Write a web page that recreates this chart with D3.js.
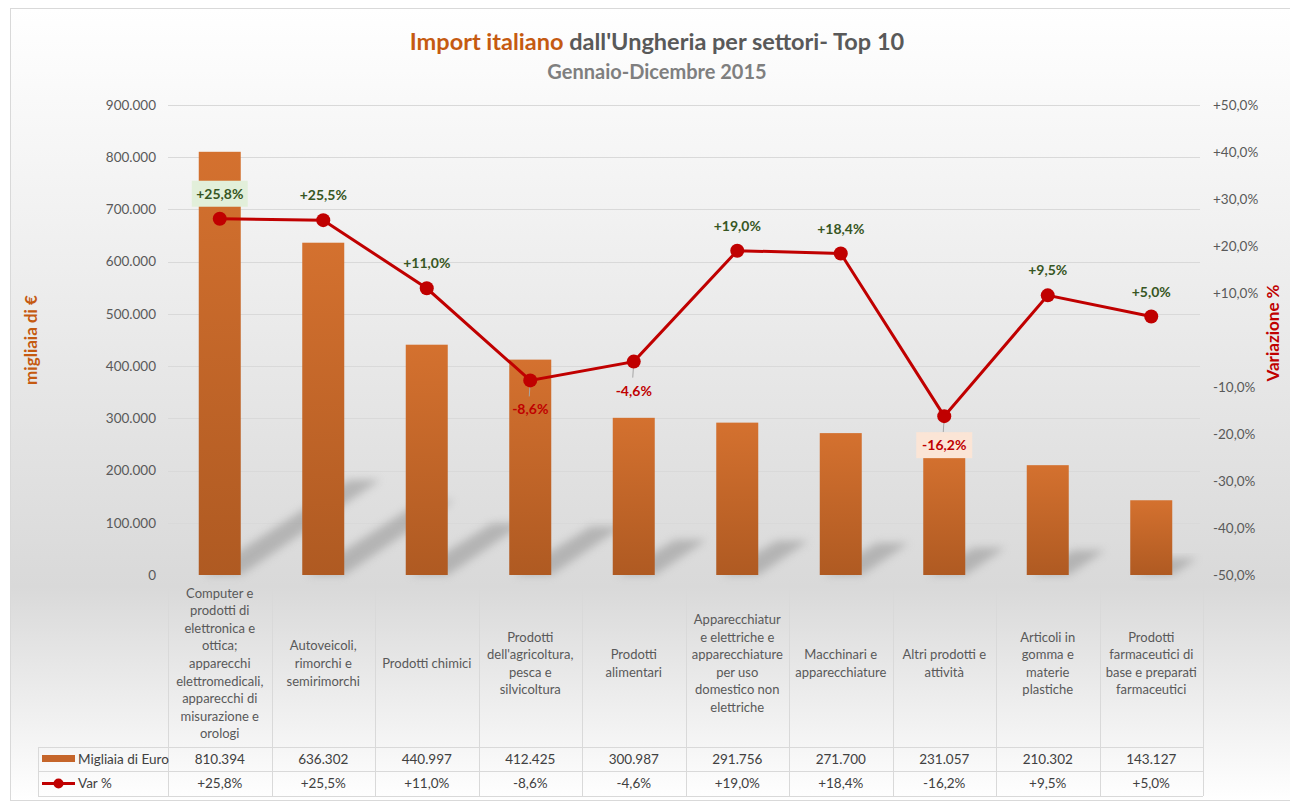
<!DOCTYPE html>
<html>
<head>
<meta charset="utf-8">
<script src="https://cdn.jsdelivr.net/npm/d3@7"></script>
<style>
  body { margin: 0; background: #fff; }
  text { font-family: Lato, "Open Sans", sans-serif; }
</style>
</head>
<body>
<div id="chart"></div>
<script>
// data
var categories = [
    "Computer e\nprodotti di\nelettronica e\nottica;\napparecchi\nelettromedicali,\napparecchi di\nmisurazione e\norologi",
    "Autoveicoli,\nrimorchi e\nsemirimorchi",
    "Prodotti chimici",
    "Prodotti\ndell'agricoltura,\npesca e\nsilvicoltura",
    "Prodotti\nalimentari",
    "Apparecchiatur\ne elettriche e\napparecchiature\nper uso\ndomestico non\nelettriche",
    "Macchinari e\napparecchiature",
    "Altri prodotti e\nattività",
    "Articoli in\ngomma e\nmaterie\nplastiche",
    "Prodotti\nfarmaceutici di\nbase e preparati\nfarmaceutici"
];
var migliaia = [810394, 636302, 440997, 412425, 300987, 291756, 271700, 231057, 210302, 143127];
var varPct = [25.8, 25.5, 11.0, -8.6, -4.6, 19.0, 18.4, -16.2, 9.5, 5.0];
var leftTicks = [0, 100000, 200000, 300000, 400000, 500000, 600000, 700000, 800000, 900000];
var rightTicks = [-50, -40, -30, -20, -10, 10, 20, 30, 40, 50];
var boxedLabels = {0: "#e2efda", 7: "#fbe5d6"};

var w = 1290, h = 801;
var plotLeft = 168, plotRight = 1203, plotTop = 105, plotBottom = 575;

var itNum = d3.formatLocale({decimal: ",", thousands: ".", grouping: [3], currency: ["", "€"], minus: "-"});
var fmtK = itNum.format(",");
var fmtP = function(v){ return (v > 0 ? "+" : "") + itNum.format(".1f")(v) + "%"; };

var svg = d3.select("#chart").append("svg")
    .attr("width", w).attr("height", h);

var defs = svg.append("defs");
var bg = defs.append("linearGradient").attr("id", "bg")
    .attr("x1", 0).attr("y1", 0).attr("x2", 0).attr("y2", 1);
bg.append("stop").attr("offset", "0%").attr("stop-color", "#ffffff");
bg.append("stop").attr("offset", "73%").attr("stop-color", "#d9d9d9");
bg.append("stop").attr("offset", "100%").attr("stop-color", "#ffffff");

var barGrad = defs.append("linearGradient").attr("id", "barGrad")
    .attr("x1", 0).attr("y1", 0).attr("x2", 0).attr("y2", 1);
barGrad.append("stop").attr("offset", "0%").attr("stop-color", "#d4712f");
barGrad.append("stop").attr("offset", "100%").attr("stop-color", "#af5a22");

defs.append("filter").attr("id", "blur")
    .attr("x", "-30%").attr("y", "-30%").attr("width", "160%").attr("height", "160%")
    .append("feGaussianBlur").attr("stdDeviation", 4);

svg.append("rect")
    .attr("x", 10.5).attr("y", 8.5)
    .attr("width", w).attr("height", h - 9)
    .attr("fill", "url(#bg)")
    .attr("stroke", "#d9d9d9");

var xScale = d3.scaleBand()
    .domain(d3.range(categories.length))
    .range([plotLeft, plotRight])
    .padding(0);

var yScale = d3.scaleLinear()
    .domain([0, 900000])
    .range([plotBottom, plotTop]);

var y2Scale = d3.scaleLinear()
    .domain([-50, 50])
    .range([plotBottom, plotTop]);

var barW = 42;

// gridlines
svg.selectAll("gridline")
    .data(leftTicks.slice(1))
    .enter()
    .append("line")
    .attr("x1", plotLeft).attr("x2", plotRight - 3)
    .attr("y1", function(d){ return Math.round(yScale(d)) + 0.5; })
    .attr("y2", function(d){ return Math.round(yScale(d)) + 0.5; })
    .attr("stroke", "#d9d9d9").attr("stroke-width", 1);

// left axis
var yAxis = d3.axisLeft(yScale).tickValues(leftTicks).tickSize(0).tickPadding(0)
    .tickFormat(function(d){ return d === 0 ? "0" : fmtK(d); });
var gy = svg.append("g")
    .attr("transform", "translate(" + 156 + ",0)")
    .call(yAxis);
gy.select(".domain").remove();
gy.selectAll("text").attr("fill", "#595959").style("font-size", "13.5px")
    .style("font-family", "Lato, sans-serif");

// right axis
var y2Axis = d3.axisRight(y2Scale).tickValues(rightTicks).tickSize(0).tickPadding(0)
    .tickFormat(fmtP);
var gy2 = svg.append("g")
    .attr("transform", "translate(" + 1213 + ",0)")
    .call(y2Axis);
gy2.select(".domain").remove();
gy2.selectAll("text").attr("fill", "#595959").style("font-size", "13.5px")
    .style("font-family", "Lato, sans-serif");

// perspective shadows
svg.selectAll("shadow")
    .data(migliaia)
    .enter()
    .append("polygon")
    .attr("points", function(d, i){
        var x0 = xScale(i) + xScale.bandwidth()/2 - barW/2;
        var x1 = x0 + barW;
        var bh = plotBottom - yScale(d);
        var dx = bh * 0.33, dy = bh * 0.225;
        return [[x0 + 4, plotBottom], [x1, plotBottom], [x1 + dx, plotBottom - dy], [x1 + dx - barW * 0.75, plotBottom - dy]].join(" ");
    })
    .attr("fill", "#8c8c8c")
    .attr("opacity", 0.5)
    .attr("filter", "url(#blur)");

// bars
svg.selectAll("bar")
    .data(migliaia)
    .enter()
    .append("rect")
    .attr("x", function(d, i){ return xScale(i) + xScale.bandwidth()/2 - barW/2; })
    .attr("y", function(d){ return yScale(d); })
    .attr("width", barW)
    .attr("height", function(d){ return plotBottom - yScale(d); })
    .attr("fill", "url(#barGrad)");

// line
var line = d3.line()
    .x(function(d, i){ return xScale(i) + xScale.bandwidth()/2; })
    .y(function(d){ return y2Scale(d); });

svg.append("path")
    .datum(varPct)
    .attr("d", line)
    .attr("fill", "none")
    .attr("stroke", "#c00000")
    .attr("stroke-width", 3);

// leader lines for labels under the points
svg.selectAll("leader")
    .data(varPct)
    .enter()
    .filter(function(d){ return d < 0; })
    .append("line")
    .attr("x1", function(d){ return xScale(varPct.indexOf(d)) + xScale.bandwidth()/2; })
    .attr("x2", function(d){ return xScale(varPct.indexOf(d)) + xScale.bandwidth()/2 - 1; })
    .attr("y1", function(d){ return y2Scale(d); })
    .attr("y2", function(d){ return y2Scale(d) + 16; })
    .attr("stroke", "#a6a6a6").attr("stroke-width", 1);

svg.selectAll("dot")
    .data(varPct)
    .enter()
    .append("circle")
    .attr("cx", function(d, i){ return xScale(i) + xScale.bandwidth()/2; })
    .attr("cy", function(d){ return y2Scale(d); })
    .attr("r", 7)
    .attr("fill", "#c00000");

// data labels
var labels = svg.selectAll("dlabel")
    .data(varPct)
    .enter()
    .append("g")
    .attr("transform", function(d, i){
        var cx = xScale(i) + xScale.bandwidth()/2;
        var cy = y2Scale(d) + (d > 0 ? -25 : 29);
        return "translate(" + cx + "," + cy + ")";
    });

labels.filter(function(d, i){ return boxedLabels[i]; })
    .append("rect")
    .attr("x", -28).attr("y", -13).attr("width", 56).attr("height", 26)
    .attr("fill", function(d){ return boxedLabels[varPct.indexOf(d)]; });

labels.append("text")
    .attr("text-anchor", "middle")
    .attr("dy", "0.36em")
    .attr("fill", function(d){ return d > 0 ? "#375623" : "#c00000"; })
    .style("font-size", "14px")
    .style("font-weight", "bold")
    .text(fmtP);

// title
var title = svg.append("text")
    .attr("x", 657).attr("y", 50)
    .attr("text-anchor", "middle")
    .style("font-size", "23.5px")
    .style("font-weight", "bold");
title.append("tspan").attr("fill", "#c55a11").text("Import italiano");
title.append("tspan").attr("fill", "#595959").text(" dall'Ungheria per settori- Top 10");

svg.append("text")
    .attr("x", 657).attr("y", 79)
    .attr("text-anchor", "middle")
    .attr("fill", "#7f7f7f")
    .style("font-size", "20px")
    .style("font-weight", "bold")
    .text("Gennaio-Dicembre 2015");

// axis titles
svg.append("text")
    .attr("transform", "translate(37,340) rotate(-90)")
    .attr("text-anchor", "middle")
    .attr("fill", "#c55a11")
    .style("font-size", "17px")
    .style("font-weight", "bold")
    .text("migliaia di €");

svg.append("text")
    .attr("transform", "translate(1279,333) rotate(-90)")
    .attr("text-anchor", "middle")
    .attr("fill", "#c00000")
    .style("font-size", "17px")
    .style("font-weight", "bold")
    .text("Variazione %");

// data table
var tableTop = 580, row1 = 747, row2 = 771, row3 = 796, legendLeft = 38;
var tColor = "#d9d9d9";

var borders = svg.append("g").attr("stroke", tColor).attr("stroke-width", 1);
var colEdges = d3.range(categories.length + 1).map(function(i){
    return i < categories.length ? xScale(i) : plotRight;
});
borders.selectAll("vline")
    .data(colEdges)
    .enter()
    .append("line")
    .attr("x1", function(d){ return Math.round(d) + 0.5; })
    .attr("x2", function(d){ return Math.round(d) + 0.5; })
    .attr("y1", tableTop).attr("y2", row3);
borders.append("line").attr("x1", legendLeft + 0.5).attr("x2", legendLeft + 0.5).attr("y1", row1).attr("y2", row3);
borders.selectAll("hline")
    .data([row1, row2, row3])
    .enter()
    .append("line")
    .attr("x1", legendLeft).attr("x2", plotRight)
    .attr("y1", function(d){ return d + 0.5; })
    .attr("y2", function(d){ return d + 0.5; });

// category labels
var catLabels = svg.selectAll("catlabel")
    .data(categories)
    .enter()
    .append("text")
    .attr("text-anchor", "middle")
    .attr("fill", "#595959")
    .style("font-size", "13px");
catLabels.each(function(d, i){
    var lines = d.split("\n");
    var lh = 17.6;
    var cx = xScale(i) + xScale.bandwidth()/2;
    var y0 = (tableTop + row1)/2 - (lines.length - 1) * lh / 2;
    d3.select(this).selectAll("tspan")
        .data(lines)
        .enter()
        .append("tspan")
        .attr("x", cx)
        .attr("y", function(l, j){ return y0 + j * lh; })
        .attr("dy", "0.35em")
        .text(function(l){ return l; });
});

// value rows
svg.selectAll("val1")
    .data(migliaia)
    .enter()
    .append("text")
    .attr("x", function(d, i){ return xScale(i) + xScale.bandwidth()/2; })
    .attr("y", (row1 + row2)/2)
    .attr("dy", "0.36em")
    .attr("text-anchor", "middle")
    .attr("fill", "#404040")
    .style("font-size", "13.5px")
    .text(fmtK);

svg.selectAll("val2")
    .data(varPct)
    .enter()
    .append("text")
    .attr("x", function(d, i){ return xScale(i) + xScale.bandwidth()/2; })
    .attr("y", (row2 + row3)/2)
    .attr("dy", "0.36em")
    .attr("text-anchor", "middle")
    .attr("fill", "#404040")
    .style("font-size", "13.5px")
    .text(fmtP);

// legend keys in table
svg.append("rect")
    .attr("x", 42).attr("y", (row1 + row2)/2 - 4)
    .attr("width", 33).attr("height", 7)
    .attr("fill", "#c5652a");
svg.append("line")
    .attr("x1", 42).attr("x2", 75)
    .attr("y1", (row2 + row3)/2).attr("y2", (row2 + row3)/2)
    .attr("stroke", "#c00000").attr("stroke-width", 3);
svg.append("circle")
    .attr("cx", 58.5).attr("cy", (row2 + row3)/2).attr("r", 5)
    .attr("fill", "#c00000");
svg.selectAll("legtext")
    .data(["Migliaia di Euro", "Var %"])
    .enter()
    .append("text")
    .attr("x", 78)
    .attr("y", function(d, i){ return i === 0 ? (row1 + row2)/2 : (row2 + row3)/2; })
    .attr("dy", "0.36em")
    .attr("fill", "#404040")
    .style("font-size", "13.5px")
    .text(function(d){ return d; });
</script>
</body>
</html>
